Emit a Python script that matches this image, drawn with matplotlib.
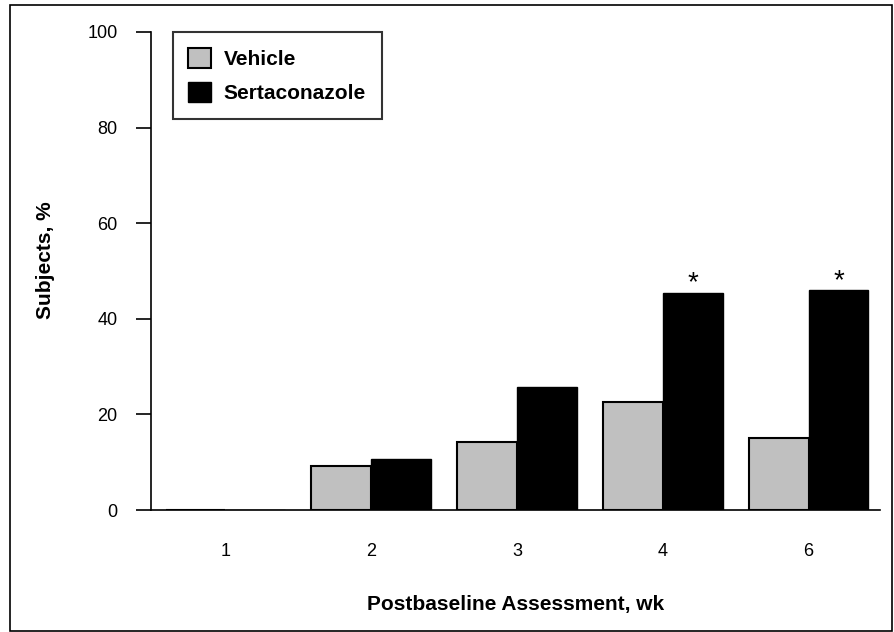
import numpy as np
import matplotlib.pyplot as plt
from matplotlib.patches import Rectangle

weeks = ['1', '2', '3', '4', '6']
vehicle = [0, 9.2, 14.2, 22.6, 15.1]
sertaconazole = [0, 10.6, 25.7, 45.5, 46.0]
significant = [False, False, False, True, True]

plt.rcParams['font.family'] = ['Liberation Sans', 'DejaVu Sans']

fig = plt.figure(figsize=(8.95, 6.32), dpi=100)
ax = fig.add_axes([0.1687, 0.193, 0.8145, 0.7564])

x = np.arange(len(weeks))
w = 0.41
ax.bar(x - w / 2, vehicle, w, color='#c0c0c0', edgecolor='black', linewidth=1.5, label='Vehicle')
ax.bar(x + w / 2, sertaconazole, w, color='black', edgecolor='black', linewidth=1.0, label='Sertaconazole')

for xi, v, s in zip(x, sertaconazole, significant):
    if s:
        ax.text(xi + w / 2, v - 0.8, '*', ha='center', va='bottom', fontsize=20)

ax.set_xlim(-0.51, 4.49)
ax.set_ylim(0, 100)
ax.set_xticks(x)
ax.set_xticklabels(weeks)
ax.set_yticks([0, 20, 40, 60, 80, 100])
ax.tick_params(axis='x', length=0, pad=24, labelsize=13)
ax.tick_params(axis='y', length=11, width=1.2, pad=13, labelsize=13)
for s in ['top', 'right']:
    ax.spines[s].set_visible(False)
ax.spines['left'].set_linewidth(1.2)
ax.spines['bottom'].set_linewidth(1.2)

ax.set_xlabel('Postbaseline Assessment, wk', fontsize=15, fontweight='bold', labelpad=25)
ax.set_ylabel('Subjects, %', fontsize=15, fontweight='bold')
ax.yaxis.set_label_coords(-0.132, 0.523)

leg = ax.legend(loc='upper left', bbox_to_anchor=(0.03, 1.0), borderaxespad=0,
                frameon=True, fancybox=False,
                edgecolor='black', prop={'weight': 'bold', 'size': 15},
                handlelength=1.1, handleheight=1.1, handletextpad=0.6,
                borderpad=0.75, labelspacing=0.65)
leg.get_frame().set_linewidth(1.5)

fig.patches.append(Rectangle((10 / 895, 1 / 632), 882 / 895, 626 / 632, transform=fig.transFigure,
                             fill=False, edgecolor='black', linewidth=1.2))

fig.savefig('out.png', dpi=100)
